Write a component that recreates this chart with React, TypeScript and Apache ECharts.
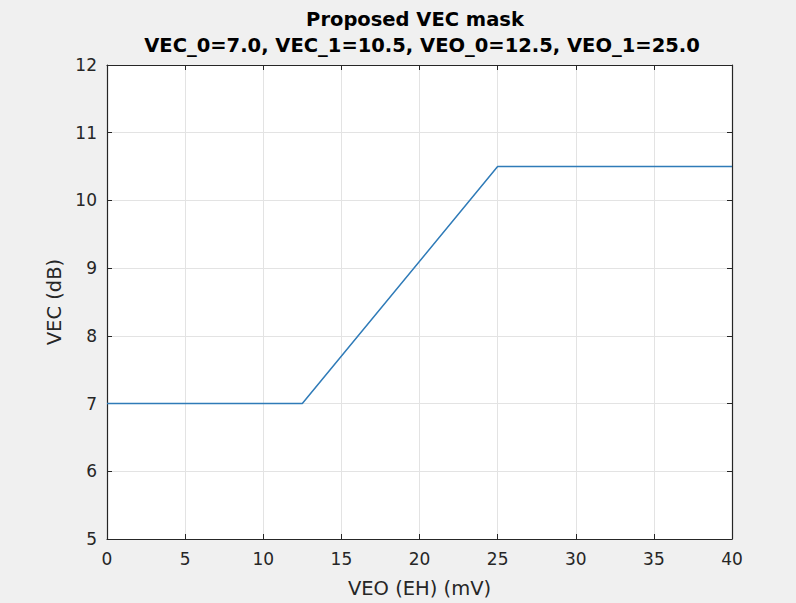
import React, { useEffect, useRef } from "react";
import * as echarts from "echarts";

// VEC mask breakpoints
const veo: number[] = [0, 12.5, 25, 40];
const vec: number[] = [7.0, 7.0, 10.5, 10.5];

const titleText = "Proposed VEC mask";
const subtitleText = "VEC_0=7.0, VEC_1=10.5, VEO_0=12.5, VEO_1=25.0";
const xLabel = "VEO (EH) (mV)";
const yLabel = "VEC (dB)";

const FONT = "'DejaVu Sans', 'Open Sans', sans-serif";
const AXIS_COLOR = "#262626";
const GRID_COLOR = "#e3e3e3";

export default function App() {
  const ref = useRef<HTMLDivElement>(null);

  useEffect(() => {
    if (!ref.current) return;
    const chart = echarts.init(ref.current, undefined, { renderer: "svg" });

    const baseX = {
      type: "value" as const,
      min: 0,
      max: 40,
      interval: 5,
      axisLine: { show: true, onZero: false, lineStyle: { color: AXIS_COLOR, width: 1.2 } },
      axisTick: { show: true, inside: true, length: 5, lineStyle: { color: AXIS_COLOR } },
    };
    const baseY = {
      type: "value" as const,
      min: 5,
      max: 12,
      interval: 1,
      axisLine: { show: true, onZero: false, lineStyle: { color: AXIS_COLOR, width: 1.2 } },
      axisTick: { show: true, inside: true, length: 5, lineStyle: { color: AXIS_COLOR } },
    };

    chart.setOption({
      animation: false,
      backgroundColor: "#f0f0f0",
      graphic: [
        {
          type: "text",
          x: 415,
          y: 19,
          style: {
            text: titleText,
            fontFamily: FONT,
            fontSize: 19.5,
            fontWeight: "bold",
            fill: "#000",
            align: "center",
            verticalAlign: "middle",
          },
        },
        {
          type: "text",
          x: 422,
          y: 45,
          style: {
            text: subtitleText,
            fontFamily: FONT,
            fontSize: 19.5,
            fontWeight: "bold",
            fill: "#000",
            align: "center",
            verticalAlign: "middle",
          },
        },
      ],
      grid: {
        left: 107,
        right: 64,
        top: 65,
        bottom: 63,
        show: true,
        backgroundColor: "#ffffff",
        borderWidth: 0,
      },
      xAxis: [
        {
          ...baseX,
          position: "bottom",
          name: xLabel,
          nameLocation: "middle",
          nameGap: 39,
          nameTextStyle: { fontFamily: FONT, fontSize: 19.5, color: AXIS_COLOR },
          axisLabel: { fontFamily: FONT, fontSize: 17, color: AXIS_COLOR, margin: 11 },
          splitLine: { show: true, lineStyle: { color: GRID_COLOR, width: 1 } },
        },
        {
          ...baseX,
          position: "top",
          axisLabel: { show: false },
          splitLine: { show: false },
        },
      ],
      yAxis: [
        {
          ...baseY,
          position: "left",
          name: yLabel,
          nameLocation: "middle",
          nameGap: 42,
          nameTextStyle: { fontFamily: FONT, fontSize: 19.5, color: AXIS_COLOR },
          axisLabel: { fontFamily: FONT, fontSize: 17, color: AXIS_COLOR, margin: 10 },
          splitLine: { show: true, lineStyle: { color: GRID_COLOR, width: 1 } },
        },
        {
          ...baseY,
          position: "right",
          axisLabel: { show: false },
          splitLine: { show: false },
        },
      ],
      series: [
        {
          type: "line",
          data: veo.map((x, i) => [x, vec[i]]),
          showSymbol: false,
          lineStyle: { color: "#2f7bb8", width: 1.5 },
          xAxisIndex: 0,
          yAxisIndex: 0,
        },
      ],
    });

    return () => chart.dispose();
  }, []);

  return (
    <div
      ref={ref}
      style={{ position: "absolute", left: 0, top: 0, width: 796, height: 603 }}
    />
  );
}
